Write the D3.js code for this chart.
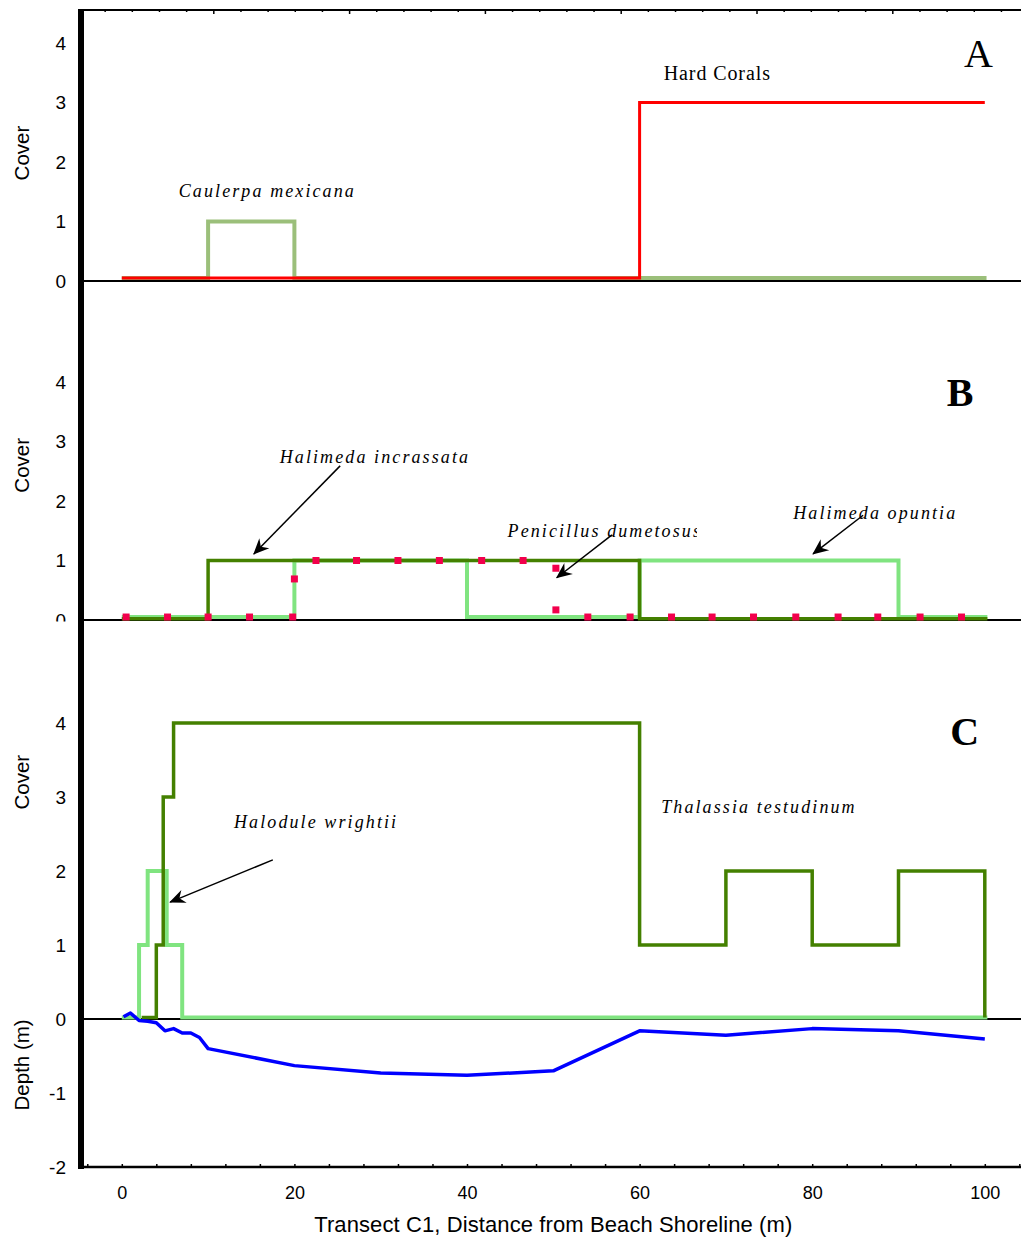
<!DOCTYPE html>
<html><head><meta charset="utf-8">
<script src="https://cdn.jsdelivr.net/npm/d3@7"></script>
<style>body{margin:0;background:#fff}svg{display:block}</style>
</head><body><svg id="c" width="1021" height="1245"></svg>
<script>
// ---------- data ----------
const xTicks = [0, 20, 40, 60, 80, 100];
const coverTicks = [0, 1, 2, 3, 4];
const panelCTicks = [-2, -1, 0, 1, 2, 3, 4];

// Panel A
const hardCoralsX = [0, 60, 100];
const hardCoralsV = [0.05, 3, 3];
const caulerpaX = [0, 10, 20, 100.2];
const caulerpaV = [0.05, 1, 0.05, 0.05];

// Panel B
const incrassataX = [0, 10, 60, 100.3];
const incrassataV = [0.02, 1, 0.02, 0.02];
const opuntiaX = [0, 20, 40, 60, 90, 100.3];
const opuntiaV = [0.05, 1, 0.05, 1, 0.05, 0.05];
const penicillusX = [0.5, 5.3, 10, 14.8, 19.8, 20, 22.5, 27.2, 32, 36.8, 41.7, 46.5, 50.3, 50.3, 54, 58.9, 63.7, 68.4, 73.2, 78.1, 83, 87.6, 92.5, 97.3];
const penicillusV = [0.05, 0.05, 0.05, 0.05, 0.05, 0.69, 1, 1, 1, 1, 1, 1, 0.87, 0.17, 0.05, 0.05, 0.05, 0.05, 0.05, 0.05, 0.05, 0.05, 0.05, 0.05];

// Panel C
const thalassiaX = [2.3, 4, 4.8, 6, 60, 70, 80, 90, 100];
const thalassiaV = [0.02, 1, 3, 4, 1, 2, 1, 2, 0.02];
const haloduleX = [0, 2, 3, 5.2, 7, 100.3];
const haloduleV = [0.02, 1, 2, 1, 0.02, 0.02];
const depthX = [0.2, 1, 2, 3, 4, 5, 6, 7, 8, 9, 10, 20, 30, 40, 50, 60, 70, 80, 90, 100];
const depthV = [0.03, 0.08, -0.02, -0.03, -0.05, -0.16, -0.13, -0.19, -0.19, -0.25, -0.4, -0.63, -0.73, -0.76, -0.7, -0.16, -0.22, -0.13, -0.16, -0.27];

// ---------- scales ----------
const svg = d3.select("#c");
const x = d3.scaleLinear().domain([0, 100]).range([121.8, 984.8]);
const yA = d3.scaleLinear().domain([0, 4]).range([281, 43]);
const yB = d3.scaleLinear().domain([0, 4]).range([620, 382]);
const yC = d3.scaleLinear().domain([-2, 4]).range([1167, 723]);
const topScale = d3.scaleLinear().domain([0, 7]).range([77.5, 77.5 + 7 * 135.8]);

const LEFT = 81, RIGHT = 1021;
const sans = "'Liberation Sans', Arial, sans-serif";
const serif = "'Liberation Serif', 'Times New Roman', serif";

const zip = (xs, vs) => xs.map((d, i) => [d, vs[i]]);
const stepLine = (ys) => d3.line().x(d => x(d[0])).y(d => ys(d[1])).curve(d3.curveStepAfter);

// defs
const defs = svg.append("defs");
defs.append("clipPath").attr("id", "clipB").append("rect").attr("x", -300).attr("y", 300).attr("width", 1500).attr("height", 321.5);
defs.append("clipPath").attr("id", "clipPen").append("rect").attr("x", 0).attr("y", 0).attr("width", 697).attr("height", 1245);
defs.append("marker").attr("id", "arr").attr("markerUnits", "userSpaceOnUse")
  .attr("viewBox", "-16 -8 18 16").attr("refX", 0).attr("refY", 0)
  .attr("markerWidth", 18).attr("markerHeight", 16).attr("orient", "auto")
  .append("path").attr("d", "M1,0 L-15,-7 L-10,0 L-15,7 Z").attr("fill", "#000");

// ---------- top frame axis ----------
const topAxis = d3.axisBottom(topScale).tickValues(d3.range(0, 7.01, 0.2)).tickSize(2).tickFormat("");
const gTop = svg.append("g").attr("transform", "translate(0,10)").call(topAxis);
gTop.select(".domain").remove();
gTop.selectAll(".tick line").attr("stroke-width", 1.5)
  .attr("y2", d => Math.abs(d - Math.round(d)) < 1e-6 ? 4 : 2);
gTop.selectAll(".tick").filter(d => topScale(d) < LEFT || topScale(d) > RIGHT).remove();
svg.append("line").attr("x1", LEFT).attr("x2", RIGHT).attr("y1", 10).attr("y2", 10).attr("stroke", "#000").attr("stroke-width", 2);

// ---------- y axis labels ----------
function yLabels(scale, vals, clip) {
  const g = svg.append("g").attr("transform", `translate(${LEFT},0)`)
    .call(d3.axisLeft(scale).tickValues(vals).tickSize(0).tickPadding(15).tickFormat(d => String(d)));
  g.select(".domain").remove();
  g.selectAll("text").attr("font-family", sans).attr("font-size", 19).attr("fill", "#000");
  if (clip) g.attr("clip-path", "url(#clipB)");
}
yLabels(yA, coverTicks);
yLabels(yB, coverTicks, true);
yLabels(yC, panelCTicks);

function vLabel(txt, cy) {
  svg.append("text").attr("transform", `translate(29,${cy}) rotate(-90)`).attr("text-anchor", "middle")
    .attr("font-family", sans).attr("font-size", 20.5).text(txt);
}
vLabel("Cover", yA(2.15));
vLabel("Cover", yB(2.6));
vLabel("Cover", yC(3.2));
vLabel("Depth (m)", yC(-0.62));

// ---------- baselines ----------
[yA(0), yB(0), yC(0)].forEach(yy => {
  svg.append("line").attr("x1", LEFT).attr("x2", RIGHT).attr("y1", yy).attr("y2", yy).attr("stroke", "#000").attr("stroke-width", 2);
});

// ---------- Panel A ----------
svg.append("path").datum(zip(caulerpaX, caulerpaV)).attr("d", stepLine(yA))
  .attr("fill", "none").attr("stroke", "#9bbf7a").attr("stroke-width", 4);
svg.append("path").datum(zip(hardCoralsX, hardCoralsV)).attr("d", stepLine(yA))
  .attr("fill", "none").attr("stroke", "#ff0000").attr("stroke-width", 3);

// ---------- Panel B ----------
const gB = svg.append("g").attr("clip-path", "url(#clipB)");
gB.append("path").datum(zip(opuntiaX, opuntiaV)).attr("d", stepLine(yB))
  .attr("fill", "none").attr("stroke", "#80e480").attr("stroke-width", 4);
gB.append("path").datum(zip(incrassataX, incrassataV)).attr("d", stepLine(yB))
  .attr("fill", "none").attr("stroke", "#448000").attr("stroke-width", 3.5);
gB.selectAll("rect.pen").data(zip(penicillusX, penicillusV)).join("rect").attr("class", "pen")
  .attr("x", d => x(d[0]) - 3.5).attr("y", d => yB(d[1]) - 3.5).attr("width", 7).attr("height", 7)
  .attr("fill", "#f2004c");

// ---------- Panel C ----------
svg.append("path").datum(zip(haloduleX, haloduleV)).attr("d", stepLine(yC))
  .attr("fill", "none").attr("stroke", "#80e480").attr("stroke-width", 4);
svg.append("path").datum(zip(thalassiaX, thalassiaV)).attr("d", stepLine(yC))
  .attr("fill", "none").attr("stroke", "#448000").attr("stroke-width", 3.5);
svg.append("path").datum(zip(depthX, depthV))
  .attr("d", d3.line().x(d => x(d[0])).y(d => yC(d[1])))
  .attr("fill", "none").attr("stroke", "#0000ff").attr("stroke-width", 3.5).attr("stroke-linejoin", "round");

// ---------- bottom axis ----------
const minorTicks = d3.range(-4, 105, 4);
const gMinor = svg.append("g").attr("transform", `translate(0,${yC(-2)})`)
  .call(d3.axisBottom(x).tickValues(minorTicks).tickSize(-3).tickFormat(""));
gMinor.select(".domain").remove();
gMinor.selectAll(".tick line").attr("stroke-width", 1.5);
const gX = svg.append("g").attr("transform", `translate(0,${yC(-2)})`)
  .call(d3.axisBottom(x).tickValues(xTicks).tickSize(0).tickPadding(19).tickFormat(d => String(d)));
gX.select(".domain").remove();
gX.selectAll("text").attr("font-family", sans).attr("font-size", 18).attr("fill", "#000");
svg.append("line").attr("x1", LEFT).attr("x2", RIGHT).attr("y1", yC(-2)).attr("y2", yC(-2)).attr("stroke", "#000").attr("stroke-width", 2.5);
svg.append("text").attr("x", x(50)).attr("y", 1232).attr("text-anchor", "middle")
  .attr("font-family", sans).attr("font-size", 22).attr("letter-spacing", 0.1)
  .text("Transect C1, Distance from Beach Shoreline (m)");

// thick left axis
svg.append("line").attr("x1", LEFT).attr("x2", LEFT).attr("y1", 9).attr("y2", yC(-2) + 2).attr("stroke", "#000").attr("stroke-width", 6);

// ---------- annotations ----------
function label(txt, xv, yv, ys, opts = {}) {
  const t = svg.append("text").attr("x", x(xv)).attr("y", ys(yv))
    .attr("font-family", serif).attr("font-size", opts.size || 18)
    .attr("font-style", opts.italic === false ? "normal" : "italic")
    .attr("font-weight", opts.bold ? "bold" : "normal")
    .attr("letter-spacing", opts.ls != null ? opts.ls : 2.1).text(txt);
  if (opts.clip) t.attr("clip-path", opts.clip);
  return t;
}
function arrow(x1, y1, x2, y2, ys) {
  svg.append("line").attr("x1", x(x1)).attr("y1", ys(y1)).attr("x2", x(x2)).attr("y2", ys(y2))
    .attr("stroke", "#000").attr("stroke-width", 1.5).attr("marker-end", "url(#arr)");
}
label("Caulerpa mexicana", 6.6, 1.41, yA);
label("Hard Corals", 62.8, 3.38, yA, { italic: false, size: 20, ls: 0.9 });
label("A", 97.6, 3.6, yA, { italic: false, size: 40, ls: 0 });

label("Halimeda incrassata", 18.3, 2.64, yB);
arrow(25.3, 2.59, 15.3, 1.11, yB);
label("Penicillus dumetosus", 44.7, 1.39, yB, { clip: "url(#clipPen)" });
arrow(56.8, 1.43, 50.4, 0.71, yB);
label("Halimeda opuntia", 77.8, 1.70, yB);
arrow(85.9, 1.76, 80.1, 1.11, yB);
label("B", 95.6, 3.6, yB, { italic: false, bold: true, size: 40, ls: 0 });

label("Halodule wrightii", 13, 2.58, yC);
arrow(17.5, 2.15, 5.6, 1.58, yC);
label("Thalassia testudinum", 62.5, 2.78, yC);
label("C", 96, 3.7, yC, { italic: false, bold: true, size: 40, ls: 0 });
</script></body></html>
